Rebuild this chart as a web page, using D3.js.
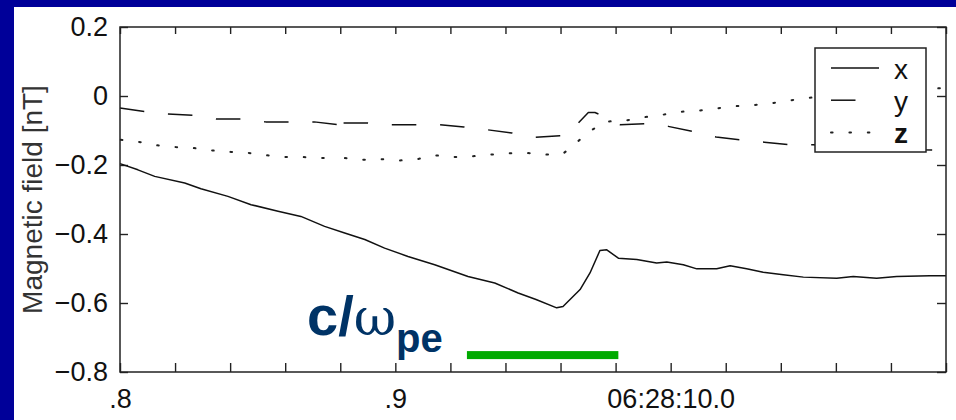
<!DOCTYPE html>
<html>
<head>
<meta charset="utf-8">
<script src="https://cdn.jsdelivr.net/npm/d3@7"></script>
<style>
html, body { margin: 0; padding: 0; background: #000099; }
svg { display: block; }
</style>
</head>
<body>
<svg id="chart" width="956" height="420"></svg>
<script>
// seconds after 06:28:00
const bxTime = [9.8000, 9.8065, 9.8126, 9.8235, 9.8294, 9.8392, 9.8476, 9.8574, 9.8657, 9.8743,
  9.8816, 9.8889, 9.8961, 9.9046, 9.9143, 9.9264, 9.9361, 9.9446, 9.9511, 9.9586, 9.9609,
  9.9671, 9.9707, 9.9743, 9.9768, 9.9810, 9.9877, 9.9949, 9.9986, 10.0046, 10.0095, 10.0167,
  10.0216, 10.0276, 10.0336, 10.0409, 10.0482, 10.0603, 10.0663, 10.0748, 10.0821, 10.0942, 10.1000];
const bxVal = [-0.196, -0.214, -0.233, -0.252, -0.269, -0.291, -0.315, -0.334, -0.349, -0.378,
  -0.397, -0.416, -0.441, -0.465, -0.489, -0.523, -0.542, -0.571, -0.590, -0.614, -0.610,
  -0.561, -0.513, -0.448, -0.446, -0.470, -0.474, -0.484, -0.481, -0.489, -0.501, -0.501,
  -0.492, -0.501, -0.511, -0.518, -0.525, -0.528, -0.523, -0.528, -0.523, -0.521, -0.521];

const byTime = [9.8000, 9.8090, 9.8174, 9.8265, 9.8352, 9.8438, 9.8529, 9.8616, 9.8705, 9.8792,
  9.8812, 9.8898, 9.8987, 9.9075, 9.9162, 9.9249, 9.9335, 9.9423, 9.9507, 9.9598, 9.9620,
  9.9701, 9.9725, 9.9743, 9.9816, 9.9907, 9.9991, 10.0080, 10.0165, 10.0252, 10.0340,
  10.0427, 10.0517, 10.0651, 10.0833, 10.0906, 10.1000];
const byVal = [-0.035, -0.045, -0.052, -0.056, -0.067, -0.067, -0.075, -0.075, -0.075, -0.083,
  -0.078, -0.078, -0.083, -0.083, -0.083, -0.090, -0.098, -0.107, -0.120, -0.115, -0.115,
  -0.048, -0.048, -0.054, -0.083, -0.080, -0.088, -0.103, -0.119, -0.127, -0.134,
  -0.141, -0.141, -0.147, -0.153, -0.156, -0.157];

const bzTime = [9.8003, 9.8069, 9.8135, 9.8202, 9.8269, 9.8335, 9.8402, 9.8467, 9.8534, 9.8598,
  9.8665, 9.8731, 9.8798, 9.8817, 9.8883, 9.8949, 9.9016, 9.9080, 9.9145, 9.9209, 9.9276, 9.9343,
  9.9409, 9.9476, 9.9544, 9.9608, 9.9661, 9.9710, 9.9765, 9.9832, 9.9897, 9.9961, 10.0028,
  10.0095, 10.0158, 10.0225, 10.0292, 10.0358, 10.0424, 10.0490, 10.0688, 10.0952, 10.1000];
const bzVal = [-0.127, -0.133, -0.143, -0.148, -0.151, -0.158, -0.162, -0.165, -0.172, -0.177,
  -0.177, -0.180, -0.180, -0.180, -0.185, -0.183, -0.187, -0.183, -0.172, -0.177, -0.175, -0.170,
  -0.166, -0.165, -0.170, -0.168, -0.133, -0.100, -0.074, -0.072, -0.062, -0.056, -0.046,
  -0.043, -0.037, -0.030, -0.027, -0.022, -0.014, -0.006, 0.007, 0.021, 0.024];

// the record has a short data gap here; the dash pattern restarts after it
const gapTime = 9.8805;

const seriesNames = ['x', 'y', 'z'];
const yTicks = [-0.8, -0.6, -0.4, -0.2, 0, 0.2];
const xLabelValues = [9.8, 9.9, 10.0];
const xLabelText = ['.8', '.9', '06:28:10.0'];
const barTime = [9.926, 9.981];   // green c/omega_pe scale bar
const barLevel = -0.751;

const svg = d3.select('#chart');
const mLeft = 120, mRight = 946, mTop = 27, mBottom = 372;

svg.append('rect').attr('x', 14).attr('y', 7).attr('width', 942).attr('height', 413).attr('fill', '#fff');

const x = d3.scaleLinear().domain([9.8, 10.1]).range([mLeft, mRight]);
const y = d3.scaleLinear().domain([-0.8, 0.2]).range([mBottom, mTop]);

const xTickValues = d3.range(0, 16).map(i => 9.8 + i * 0.02);
const xFmt = d => {
  const i = xLabelValues.findIndex(v => Math.abs(v - d) < 1e-6);
  return i < 0 ? '' : xLabelText[i];
};
const yFmt = d => d === 0 ? '0' : d3.format('.1f')(d);

function styleAxis(g) {
  g.select('.domain').remove();
  g.selectAll('line').attr('stroke', '#222').attr('stroke-width', 1.4);
  g.selectAll('text').attr('fill', '#111').style('font-family', 'Liberation Sans, Arial, sans-serif').style('font-size', '27px');
}

svg.append('g').attr('transform', `translate(0,${mBottom})`)
  .call(d3.axisBottom(x).tickValues(xTickValues).tickFormat(xFmt).tickSizeInner(-9).tickSizeOuter(0).tickPadding(10))
  .call(styleAxis)
  .selectAll('text').attr('dy', '0.95em');
svg.append('g').attr('transform', `translate(0,${mTop})`)
  .call(d3.axisTop(x).tickValues(xTickValues).tickFormat('').tickSizeInner(-7).tickSizeOuter(0))
  .call(styleAxis);
svg.append('g').attr('transform', `translate(${mLeft},0)`)
  .call(d3.axisLeft(y).tickValues(yTicks).tickFormat(yFmt).tickSizeInner(-8).tickSizeOuter(0).tickPadding(12))
  .call(styleAxis);
svg.append('g').attr('transform', `translate(${mRight},0)`)
  .call(d3.axisRight(y).tickValues(yTicks).tickFormat('').tickSizeInner(-9).tickSizeOuter(0))
  .call(styleAxis);

svg.append('text')
  .attr('transform', `translate(42,${(mTop + mBottom) / 2}) rotate(-90)`)
  .attr('text-anchor', 'middle')
  .attr('fill', '#333')
  .style('font-family', 'Liberation Sans, Arial, sans-serif')
  .style('font-size', '28px')
  .text('Magnetic field [nT]');

const line = d3.line().x(d => x(d[0])).y(d => y(d[1]));
const styles = [
  { dash: null, width: 1.5, color: '#111' },
  { dash: '24.5,23.8', width: 1.5, color: '#111' },
  { dash: '1.6,16.8', width: 2, color: '#222', cap: 'round' }
];
const series = [d3.zip(bxTime, bxVal), d3.zip(byTime, byVal), d3.zip(bzTime, bzVal)];

series.forEach((s, i) => {
  // solid line drawn in one piece; patterned ones restart at the gap
  const parts = styles[i].dash
    ? [s.filter(d => d[0] < gapTime), s.filter(d => d[0] > gapTime)]
    : [s];
  parts.forEach(p => {
    svg.append('path')
      .datum(p)
      .attr('d', line)
      .attr('fill', 'none')
      .attr('stroke', styles[i].color)
      .attr('stroke-width', styles[i].width)
      .attr('stroke-dasharray', styles[i].dash)
      .attr('stroke-linecap', styles[i].cap || 'butt')
      .attr('stroke-linejoin', 'round');
  });
});

svg.append('rect')
  .attr('x', mLeft).attr('y', mTop)
  .attr('width', mRight - mLeft).attr('height', mBottom - mTop)
  .attr('fill', 'none').attr('stroke', '#222').attr('stroke-width', 1.5);

// legend (opaque, covers the curves)
const leg = svg.append('g').attr('transform', 'translate(815,48)');
leg.append('rect').attr('width', 111).attr('height', 104)
  .attr('fill', '#fff').attr('stroke', '#222').attr('stroke-width', 1.5);
seriesNames.forEach((n, i) => {
  const yy = 20 + i * 32.2;
  leg.append('line').attr('x1', 16).attr('x2', 64).attr('y1', yy).attr('y2', yy)
    .attr('stroke', styles[i].color).attr('stroke-width', styles[i].width)
    .attr('stroke-dasharray', styles[i].dash)
    .attr('stroke-linecap', styles[i].cap || 'butt');
  leg.append('text').attr('x', 79).attr('y', yy + 10.5)
    .attr('fill', '#111')
    .style('font-family', 'Liberation Sans, Arial, sans-serif')
    .style('font-size', '28px')
    .style('font-weight', n === 'z' ? 'bold' : 'normal')
    .text(n);
});

// scale bar annotation
svg.append('rect')
  .attr('x', x(barTime[0])).attr('y', y(barLevel) - 4)
  .attr('width', x(barTime[1]) - x(barTime[0])).attr('height', 8)
  .attr('fill', '#00aa00');

const lab = svg.append('text')
  .attr('x', 307).attr('y', 335)
  .attr('fill', '#003366')
  .style('font-family', 'Liberation Sans, Arial, sans-serif')
  .style('font-size', '56px')
  .style('font-weight', 'bold');
lab.append('tspan').text('c/');
lab.append('tspan').style('font-family', 'DejaVu Serif, serif').style('font-weight', 'normal').style('font-size', '52px').text('ω');
lab.append('tspan').attr('dy', 17).style('font-size', '40px').text('pe');
</script>
</body>
</html>
